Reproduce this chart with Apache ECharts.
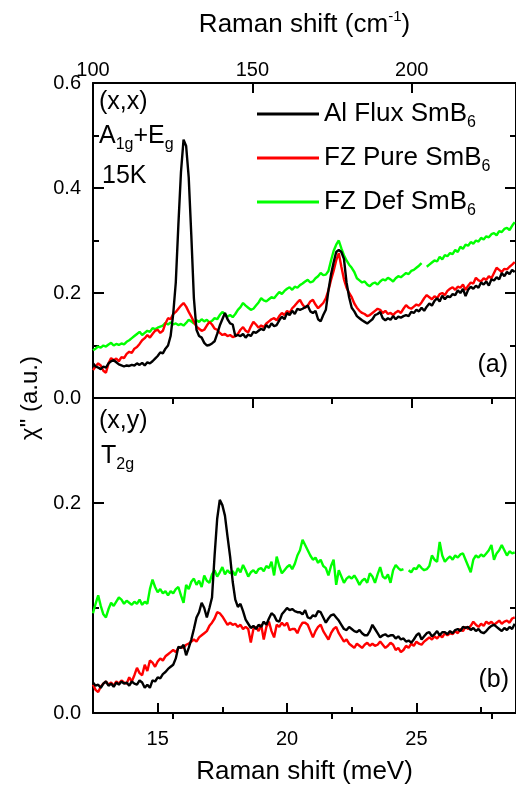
<!DOCTYPE html>
<html>
<head>
<meta charset="utf-8">
<script src="https://cdn.jsdelivr.net/npm/echarts@6/dist/echarts.min.js"></script>
<style>
  html, body { margin: 0; padding: 0; background: #fff; }
  #chart { width: 516px; height: 786px; }
</style>
</head>
<body>
<div id="chart"></div>
<script>
// spectra sampled every 0.1 meV starting at 12.5 meV
const xStart = 12.5
const xStep = 0.1
const xMin = 12.5, xMax = 28.85      // meV (bottom axis)
const cmMin = 100, cmMax = 232.7     // cm-1 (top axis)

const seriesNames = ['Al Flux SmB6', 'FZ Pure SmB6', 'FZ Def SmB6']

// (a) (x,x) A1g+Eg
const xxBlack = [
  .066,.060,.058,.055,.060,.058,.066,.070,.072,.068,
  .064,.062,.060,.062,.061,.063,.062,.066,.063,.067,
  .062,.068,.066,.070,.075,.080,.087,.085,.094,.100,
  .118,.160,.220,.330,.430,.492,.480,.420,.310,.190,
  .130,.118,.115,.105,.100,.101,.104,.108,.122,.138,
  .150,.162,.150,.142,.140,.118,.120,.118,.122,.115,
  .121,.118,.126,.124,.128,.132,.129,.139,.134,.142,
  .137,.139,.148,.155,.150,.162,.158,.166,.160,.170,
  .168,.170,.173,.176,.165,.162,.166,.150,.146,.158,
  .168,.205,.235,.258,.278,.282,.278,.265,.220,.192,
  .172,.165,.156,.152,.148,.145,.142,.146,.150,.158,
  .160,.164,.152,.148,.152,.149,.156,.150,.155,.153,
  .156,.158,.156,.164,.162,.168,.165,.172,.166,.174,
  .180,.176,.185,.190,.184,.195,.188,.194,.192,.198,
  .196,.205,.200,.208,.194,.206,.212,.208,.214,.210,
  .220,.216,.222,.214,.226,.224,.230,.226,.238,.232,
  .240,.236,.244,.240
]
const xxRed = [
  .053,.060,.066,.062,.052,.048,.066,.076,.072,.075,
  .070,.078,.076,.084,.088,.086,.094,.097,.103,.110,
  .114,.120,.115,.122,.128,.130,.124,.128,.142,.152,
  .150,.160,.164,.170,.176,.181,.174,.164,.155,.145,
  .136,.132,.128,.130,.138,.145,.140,.132,.130,.124,
  .120,.122,.118,.120,.116,.118,.122,.130,.135,.128,
  .125,.136,.145,.140,.134,.138,.135,.142,.146,.150,
  .152,.148,.156,.162,.158,.166,.162,.171,.176,.182,
  .187,.178,.172,.176,.184,.187,.178,.171,.176,.181,
  .190,.205,.225,.242,.262,.276,.250,.226,.210,.200,
  .192,.180,.172,.166,.162,.160,.156,.158,.162,.166,
  .170,.168,.162,.166,.160,.162,.158,.163,.166,.162,
  .170,.177,.172,.170,.174,.178,.176,.182,.190,.196,
  .192,.188,.194,.190,.198,.200,.196,.204,.208,.211,
  .206,.212,.210,.216,.206,.214,.220,.218,.229,.224,
  .222,.228,.225,.232,.228,.238,.248,.244,.240,.246,
  .245,.250,.254,.259
]
const xxGreen = [
  .091,.094,.098,.096,.100,.098,.102,.105,.100,.103,
  .101,.104,.102,.107,.110,.114,.118,.122,.126,.120,
  .124,.128,.126,.133,.131,.134,.136,.138,.143,.140,
  .144,.140,.142,.139,.141,.138,.143,.149,.146,.142,
  .148,.145,.150,.146,.149,.144,.147,.152,.150,.158,
  .164,.160,.155,.158,.154,.160,.168,.173,.181,.176,
  .172,.168,.170,.176,.182,.190,.186,.184,.188,.192,
  .190,.196,.202,.198,.204,.208,.211,.206,.212,.210,
  .215,.218,.222,.225,.220,.222,.228,.232,.238,.234,
  .235,.242,.262,.280,.292,.300,.285,.272,.262,.254,
  .248,.240,.228,.224,.220,.222,.216,.213,.218,.220,
  .216,.222,.226,.224,.229,.226,.222,.228,.232,.230,
  .234,.238,.236,.242,.244,.248,.252,.257,null,.250,
  .254,.258,.262,.260,.269,.264,.272,.270,.276,.274,
  .282,.278,.288,.284,.292,.290,.297,.294,.300,.298,
  .305,.302,.308,.306,.312,.314,.310,.318,.316,.322,
  .324,.320,.328,.335
]

// (b) (x,y) T2g
const xyBlack = [
  .029,.026,.027,.024,.028,.030,.026,.028,.025,.029,
  .027,.030,.028,.029,.026,.030,.028,.027,.031,.029,
  .024,.027,.024,.031,.030,.034,.033,.037,.039,.042,
  .044,.046,.052,.063,.062,.065,.055,.062,.070,.080,
  .091,.096,.105,.100,.091,.100,.110,.150,.185,.203,
  .198,.188,.168,.149,.125,.108,.101,.104,.097,.089,
  .085,.081,.083,.080,.084,.082,.087,.084,.090,.095,
  .093,.088,.087,.094,.097,.100,.098,.099,.097,.096,
  .096,.094,.098,.091,.090,.093,.092,.097,.096,.091,
  .086,.090,.093,.094,.091,.088,.084,.080,.079,.082,
  .080,.078,.077,.079,.076,.074,.074,.078,.084,.080,
  .076,.072,.074,.075,.073,.074,.074,.071,.073,.070,
  .071,.068,.069,.067,.070,.074,.076,.070,.073,.076,
  .077,.073,.075,.078,.074,.077,.077,.075,.078,.076,
  .079,.080,.078,.082,.081,.082,.079,.081,.078,.080,
  .077,.076,.078,.081,.083,.084,.082,.080,.078,.081,
  .079,.082,.080,.085
]
const xyRed = [
  .027,.022,.020,.025,.028,.030,.027,.029,.026,.030,
  .028,.031,.029,.028,.034,.030,.036,.043,.038,.036,
  .046,.040,.050,.048,.044,.049,.052,.050,.054,.056,
  .058,.060,.058,.062,.063,.062,.065,.066,.068,.070,
  .068,.072,.074,.076,.078,.083,.086,.090,.096,.095,
  .092,.088,.084,.086,.084,.085,.082,.084,.080,.082,
  .080,.067,.080,.082,.078,.084,.070,.082,.087,.078,
  .072,.084,.082,.086,.083,.086,.079,.080,.080,.076,
  .082,.086,.086,.084,.078,.072,.078,.082,.084,.078,
  .074,.070,.076,.080,.082,.076,.072,.068,.070,.066,
  .064,.062,.066,.064,.062,.065,.067,.064,.066,.064,
  .065,.068,.065,.062,.064,.067,.065,.060,.062,.058,
  .060,.064,.062,.066,.064,.068,.066,.065,.068,.070,
  .072,.070,.073,.071,.074,.072,.076,.074,.076,.075,
  .078,.076,.080,.078,.082,.080,.083,.087,.084,.082,
  .085,.083,.087,.085,.087,.084,.086,.088,.085,.087,
  .088,.086,.090,.091
]
const xyGreen = [
  .095,.104,.112,.102,.094,.091,.099,.105,.102,.106,
  .110,.108,.104,.107,.105,.103,.106,.104,.108,.103,
  .106,.104,.118,.127,.120,.115,.118,.114,.116,.112,
  .116,.114,.118,.120,.112,.105,.122,.118,.125,.128,
  .122,.126,.120,.131,.126,.124,.132,.136,.130,.134,
  .139,.132,.136,.133,.135,.131,.138,.134,.141,.136,
  .130,.134,.136,.133,.137,.138,.135,.140,.138,.144,
  .131,.149,.140,.133,.136,.139,.141,.137,.142,.150,
  .155,.165,.160,.155,.150,.146,.148,.143,.146,.140,
  .138,.131,.140,.146,.122,.136,.130,.124,.128,.130,
  .128,.131,.127,.122,.126,.128,.124,.133,.130,.124,
  .132,.139,.130,.128,.132,.124,.136,.141,.138,.136,
  .137,null,.136,.134,.138,.137,.141,.138,.136,.137,
  .140,.150,.146,.144,.163,.150,.144,.147,.149,.146,
  .150,.148,.151,.152,.146,.140,.134,.146,.150,.148,
  .151,.149,.152,.155,.160,.146,.152,.155,.160,.155,
  .150,.154,.152,.153
]

// tick positions
const meVMajor = [15, 20, 25]
const meVMinor = [17.5, 22.5, 27.5]
const cmMajor = [100, 150, 200]
const cmMinor = [125, 175, 225]

const font = 'Liberation Sans, Arial, Helvetica, sans-serif'
const colors = ['#000000', '#ff0000', '#00ff00']

function toXY(arr) {
  return arr.map((v, i) => [+(xStart + i * xStep).toFixed(2), v])
}

const chart = echarts.init(document.getElementById('chart'))

function tickAxis(gridIndex, position, min, max, ticks, len, extra) {
  return Object.assign({
    type: 'value', gridIndex, position, min, max,
    axisLine: { show: true, onZero: false, lineStyle: { color: '#000', width: 2 } },
    axisTick: { show: true, inside: true, length: len, customValues: ticks, lineStyle: { color: '#000', width: 2 } },
    axisLabel: { show: false },
    splitLine: { show: false }
  }, extra || {})
}

const yLabel = v => Math.abs(v / 0.2 - Math.round(v / 0.2)) < 1e-6 ? v.toFixed(1) : ''

function yAxisFor(gridIndex, position, max, labels) {
  return {
    type: 'value', gridIndex, position, min: 0, max, interval: 0.2,
    axisLine: { show: true, onZero: false, lineStyle: { color: '#000', width: 2 } },
    axisTick: { show: true, inside: true, length: 11, lineStyle: { color: '#000', width: 2 } },
    minorTick: { show: true, splitNumber: 2, length: 6, lineStyle: { color: '#000', width: 2 } },
    axisLabel: { show: labels, formatter: yLabel, fontSize: 20, color: '#000', fontFamily: font, margin: 12 },
    splitLine: { show: false }
  }
}

const option = {
  animation: false,
  backgroundColor: '#fff',
  grid: [
    { left: 93, right: 0, top: 83, height: 315 },
    { left: 93, right: 0, top: 398, height: 315 }
  ],
  xAxis: [
    // 0: top panel data axis (meV), bottom line only
    tickAxis(0, 'bottom', xMin, xMax, [], 0, { axisTick: { show: false } }),
    // 1: top panel cm-1 axis with labels
    tickAxis(0, 'top', cmMin, cmMax, cmMajor, 10, {
      axisLabel: { show: true, customValues: cmMajor, margin: 3, fontSize: 20, color: '#000', fontFamily: font },
      name: 'Raman shift (cm{sup|-1})',
      nameLocation: 'middle',
      nameGap: 43,
      nameTextStyle: {
        fontSize: 26, color: '#000', fontFamily: font,
        rich: { sup: { fontSize: 15, fontFamily: font, color: '#000', padding: [0, 0, 16, 0] } }
      }
    }),
    // 2: top panel cm-1 minor ticks
    tickAxis(0, 'top', cmMin, cmMax, cmMinor, 6, { axisLine: { show: false } }),
    // 3: bottom panel meV axis
    tickAxis(1, 'bottom', xMin, xMax, meVMajor, 10, {
      axisLabel: { show: true, customValues: meVMajor, margin: 16, fontSize: 20, color: '#000', fontFamily: font },
      name: 'Raman shift (meV)',
      nameLocation: 'middle',
      nameGap: 46,
      nameTextStyle: { fontSize: 26, color: '#000', fontFamily: font }
    }),
    // 4: bottom panel meV minor ticks
    tickAxis(1, 'bottom', xMin, xMax, meVMinor, 6, { axisLine: { show: false } }),
    // 5: bottom panel cm-1 ticks at the top
    tickAxis(1, 'top', cmMin, cmMax, cmMajor, 10),
    // 6: bottom panel cm-1 minor ticks
    tickAxis(1, 'top', cmMin, cmMax, cmMinor, 6, { axisLine: { show: false } })
  ],
  yAxis: [
    yAxisFor(0, 'left', 0.6, true),
    yAxisFor(0, 'right', 0.6, false),
    yAxisFor(1, 'left', 0.3, true),
    yAxisFor(1, 'right', 0.3, false)
  ],
  legend: {
    data: seriesNames,
    orient: 'vertical',
    left: 252,
    top: 96,
    icon: 'rect',
    itemWidth: 62,
    itemHeight: 3,
    itemGap: 14,
    selectedMode: false,
    formatter: name => name.replace('SmB6', 'SmB{sub|6}'),
    textStyle: {
      fontSize: 26, color: '#000', fontFamily: font,
      rich: { sub: { fontSize: 16, fontFamily: font, color: '#000', padding: [18, 0, 0, 0] } }
    }
  },
  graphic: [
    { type: 'text', x: 30, y: 398, rotation: Math.PI / 2,
      style: { text: 'χ" (a.u.)', fontSize: 24, fontFamily: font, fill: '#000', align: 'center', verticalAlign: 'middle' } },
    { type: 'text', x: 99, y: 102,
      style: { text: '(x,x)', fontSize: 25, fontFamily: font, fill: '#000', verticalAlign: 'middle' } },
    { type: 'text', x: 99, y: 136,
      style: { text: 'A{sub|1g}+E{sub|g}', fontSize: 25, fontFamily: font, fill: '#000', verticalAlign: 'middle',
        rich: { sub: { fontSize: 16, fontFamily: font, fill: '#000', padding: [18, 0, 0, 0] } } } },
    { type: 'text', x: 102, y: 176,
      style: { text: '15K', fontSize: 25, fontFamily: font, fill: '#000', verticalAlign: 'middle' } },
    { type: 'text', x: 508, y: 365,
      style: { text: '(a)', fontSize: 25, fontFamily: font, fill: '#000', align: 'right', verticalAlign: 'middle' } },
    { type: 'text', x: 99, y: 421,
      style: { text: '(x,y)', fontSize: 25, fontFamily: font, fill: '#000', verticalAlign: 'middle' } },
    { type: 'text', x: 101, y: 456,
      style: { text: 'T{sub|2g}', fontSize: 25, fontFamily: font, fill: '#000', verticalAlign: 'middle',
        rich: { sub: { fontSize: 16, fontFamily: font, fill: '#000', padding: [18, 0, 0, 0] } } } },
    { type: 'text', x: 509, y: 680,
      style: { text: '(b)', fontSize: 25, fontFamily: font, fill: '#000', align: 'right', verticalAlign: 'middle' } }
  ],
  series: []
}

const panels = [
  { x: 0, y: 0, data: [xxBlack, xxRed, xxGreen] },
  { x: 3, y: 2, data: [xyBlack, xyRed, xyGreen] }
]
// draw green first so black ends on top
panels.forEach(p => {
  [2, 1, 0].forEach(k => {
    option.series.push({
      type: 'line',
      name: seriesNames[k],
      xAxisIndex: p.x,
      yAxisIndex: p.y,
      data: toXY(p.data[k]),
      symbol: 'none',
      connectNulls: false,
      lineStyle: { color: colors[k], width: 2.4 },
      itemStyle: { color: colors[k] },
      emphasis: { disabled: true }
    })
  })
})

chart.setOption(option)
</script>
</body>
</html>
